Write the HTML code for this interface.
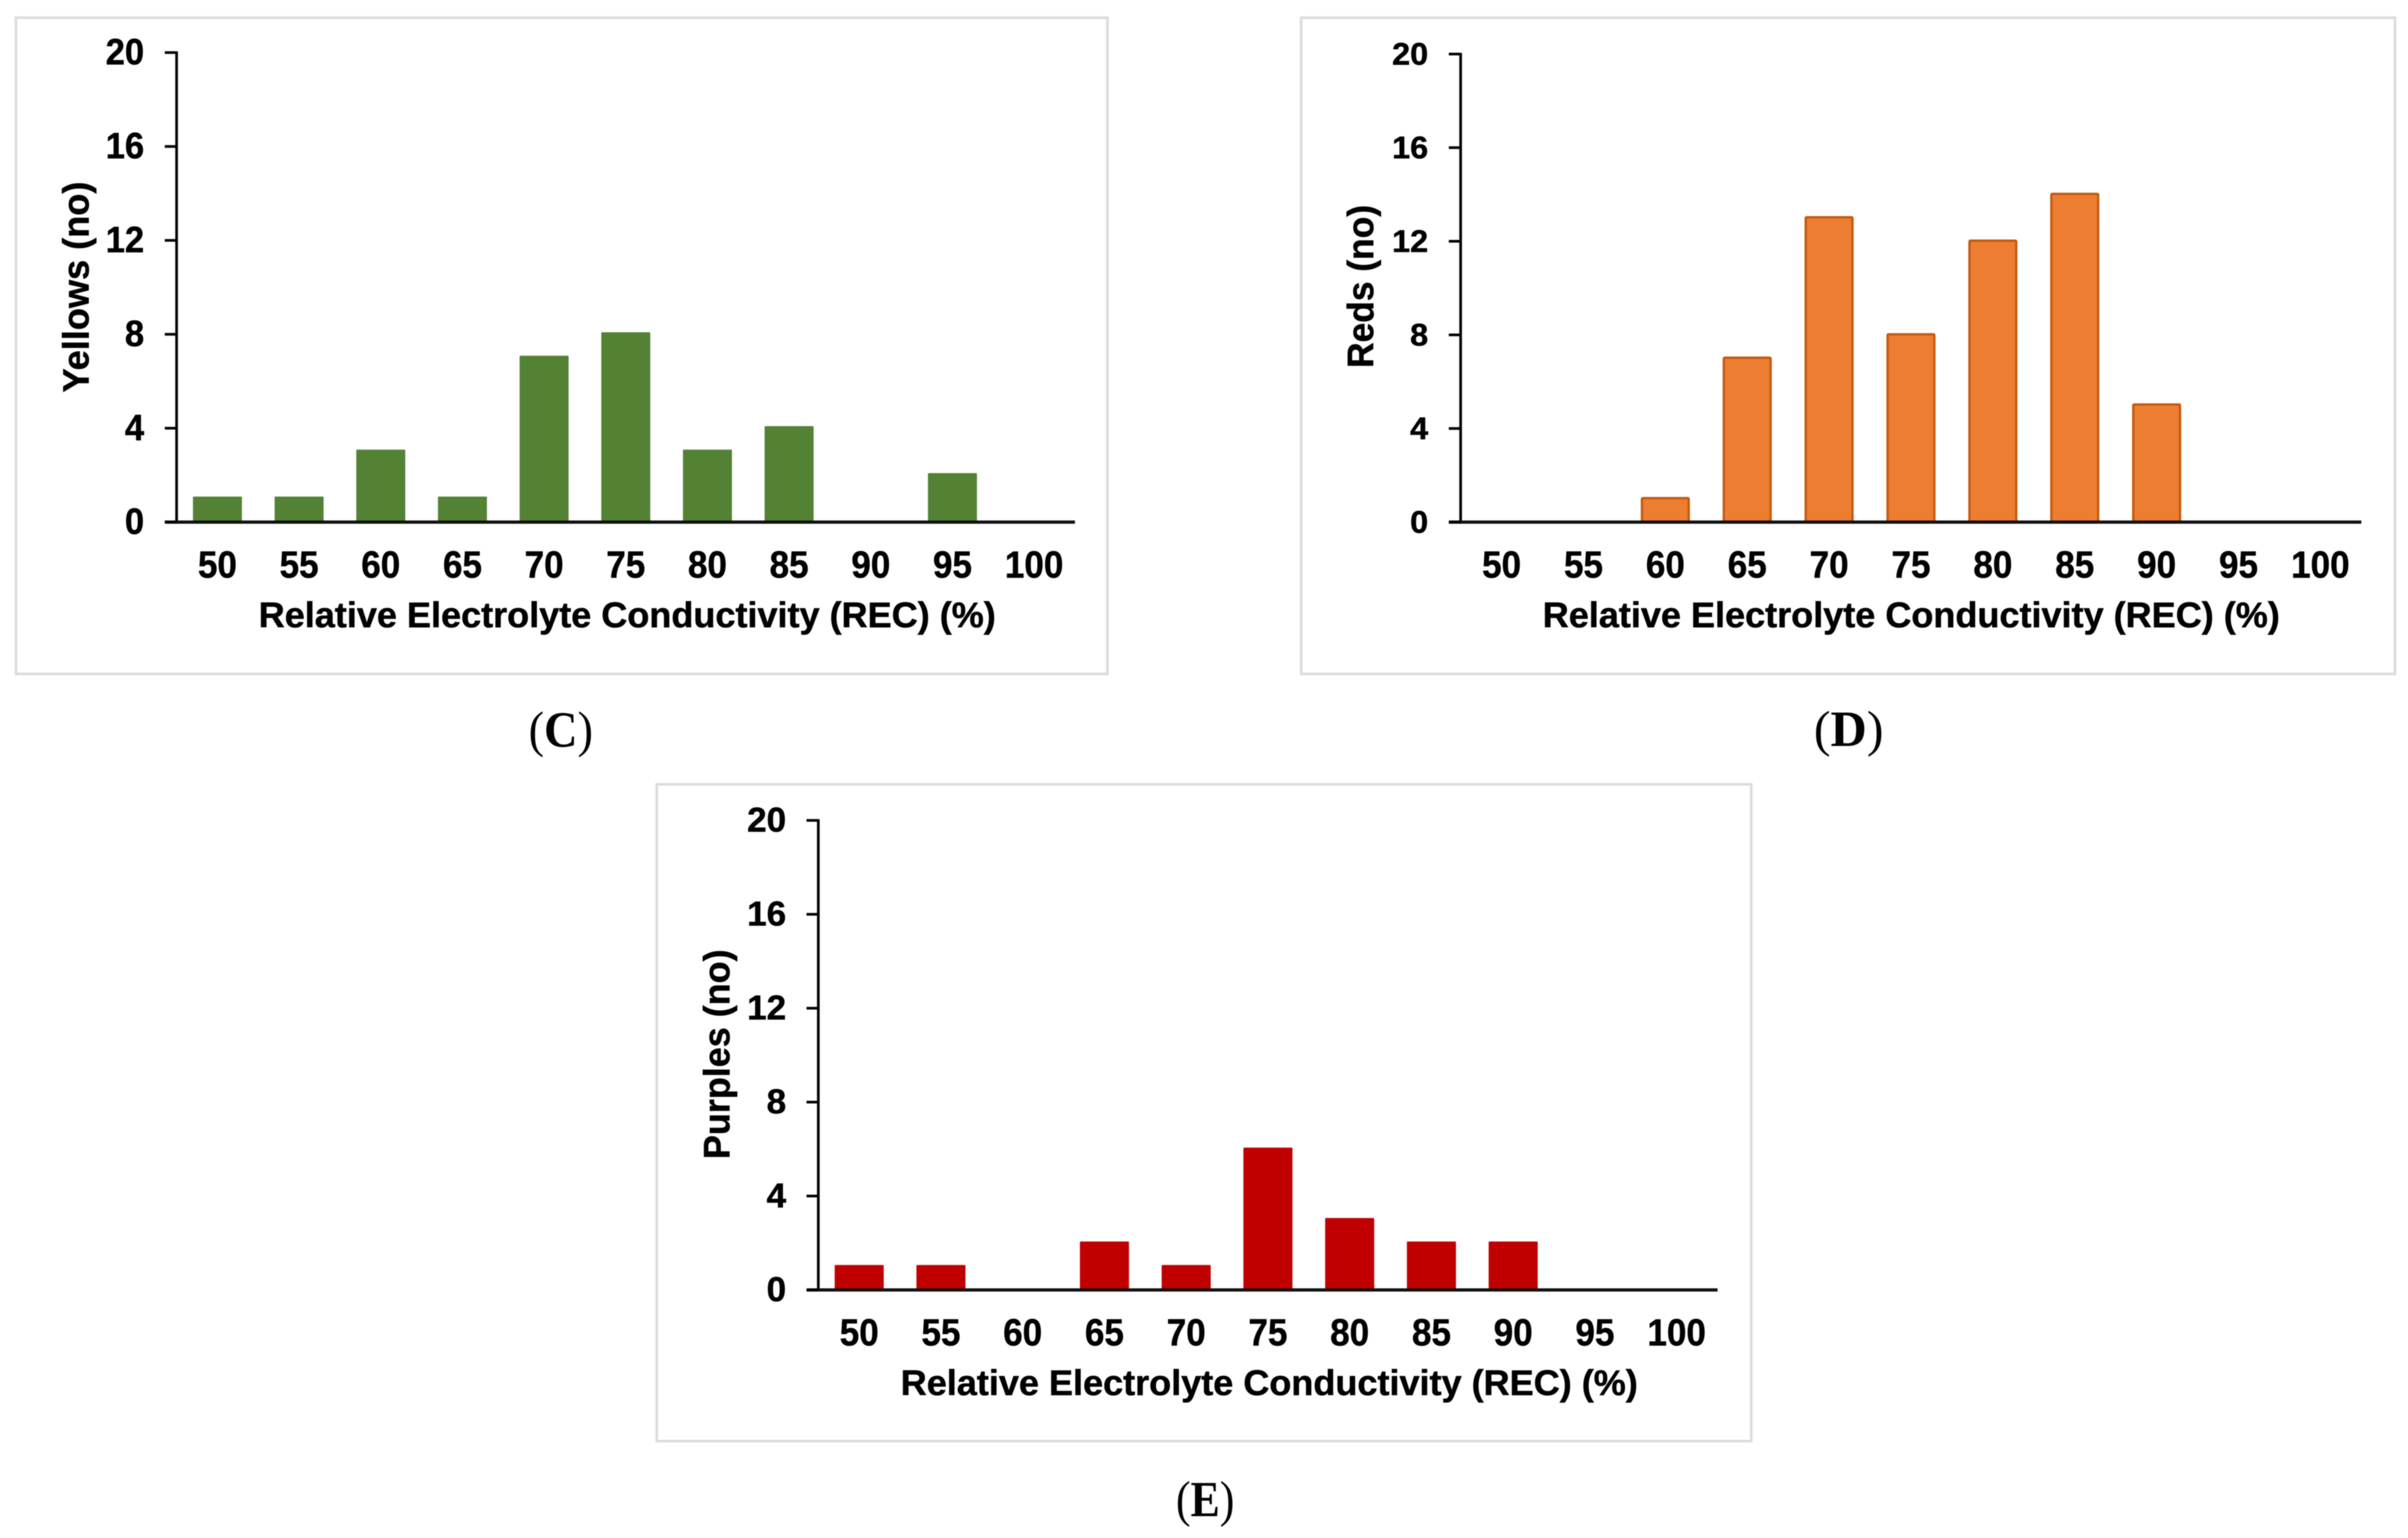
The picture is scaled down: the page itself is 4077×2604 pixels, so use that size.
<!DOCTYPE html>
<html lang="en">
<head>
<meta charset="utf-8">
<title>Relative Electrolyte Conductivity histograms</title>
<style>
  html, body { margin: 0; padding: 0; background: #fff; width: 4077px; height: 2604px; overflow: hidden; }
  svg { display: block; filter: blur(0.9px); }
  text { fill: #000; stroke: #000; stroke-width: 0.8px; font-family: "Liberation Sans", sans-serif; font-weight: 700; }
  .caption { font-family: "Liberation Serif", serif; font-weight: 400; font-size: 86px; stroke-width: 0; }
  .caption .letter { font-weight: 700; }
</style>
</head>
<body>
<svg id="figure" xmlns="http://www.w3.org/2000/svg" width="4077" height="2604" viewBox="0 0 4077 2604">
  <rect x="0" y="0" width="4077" height="2604" fill="#ffffff"/>
  <text class="caption" x="895" y="1264" textLength="109" lengthAdjust="spacingAndGlyphs">(<tspan class="letter">C</tspan>)</text>
  <text class="caption" x="3071" y="1263" textLength="118" lengthAdjust="spacingAndGlyphs">(<tspan class="letter">D</tspan>)</text>
  <text class="caption" x="1991" y="2567" textLength="99" lengthAdjust="spacingAndGlyphs">(<tspan class="letter">E</tspan>)</text>
</svg>
<script>
const categories = ["50", "55", "60", "65", "70", "75", "80", "85", "90", "95", "100"];
const yellowsValues = [1, 1, 3, 1, 7, 8, 3, 4, 0, 2, 0];
const redsValues = [0, 0, 1, 7, 13, 8, 12, 14, 5, 0, 0];
const purplesValues = [1, 1, 0, 2, 1, 6, 3, 2, 2, 0, 0];
const yTickLabels = ["0", "4", "8", "12", "16", "20"];
const xAxisTitle = "Relative Electrolyte Conductivity (REC) (%)";
const yMax = 20;

const panelLayouts = [
  { id: "yellows", values: yellowsValues, yTitle: "Yellows (no)", fill: "#548235", stroke: "none", strokeWidth: 0, barLift: 3.5,
    frame: [27, 30, 1875, 1141], axisX: 299, axisRight: 1820, axisTop: 89, axisBottom: 884,
    tickFont: 62, tickDigit: 32.5, tickRight: 244, tickDy: 20,
    titleX: 438, yTitleX: 150, yTitleMid: 486, yTitleLen: 357 },
  { id: "reds", values: redsValues, yTitle: "Reds (no)", fill: "#ED7D31", stroke: "#C55A11", strokeWidth: 4, barLift: 3,
    frame: [2203, 30, 4055, 1141], axisX: 2473, axisRight: 3998, axisTop: 91.5, axisBottom: 884,
    tickFont: 53, tickDigit: 30.5, tickRight: 2418, tickDy: 18,
    titleX: 2612, yTitleX: 2325, yTitleMid: 485, yTitleLen: 276 },
  { id: "purples", values: purplesValues, yTitle: "Purples (no)", fill: "#C00000", stroke: "none", strokeWidth: 0, barLift: 2.5,
    frame: [1112, 1328, 2965, 2440], axisX: 1385.5, axisRight: 2908, axisTop: 1389, axisBottom: 2184,
    tickFont: 58, tickDigit: 33, tickRight: 1331, tickDy: 19,
    titleX: 1525, yTitleX: 1235, yTitleMid: 1785, yTitleLen: 355 }
];

const SVG_NS = "http://www.w3.org/2000/svg";
const figure = document.getElementById("figure");

function make(tag, attrs, parent) {
  const el = document.createElementNS(SVG_NS, tag);
  for (const key in attrs) { el.setAttribute(key, attrs[key]); }
  parent.appendChild(el);
  return el;
}

function drawPanel(p) {
  const band = (p.axisRight - p.axisX) / categories.length;
  const xCenter = (i) => p.axisX + band * (i + 0.5);
  const yPos = (v) => p.axisBottom - (v / yMax) * (p.axisBottom - p.axisTop);
  const barWidth = band * 0.6;

  const group = make("g", {}, figure);
  
  

  const frame = make("rect", { x: p.frame[0], y: p.frame[1], width: p.frame[2] - p.frame[0], height: p.frame[3] - p.frame[1], fill: "#ffffff", stroke: "#dcdcdc", "stroke-width": 4.5 }, group);
  
  

  p.values.forEach((v, i) => {
    const sw = p.strokeWidth;
    const top = v > 0 ? yPos(v) - p.barLift : p.axisBottom;
    const bar = make("rect", {
      x: xCenter(i) - barWidth / 2 + sw / 2,
      y: top + sw / 2,
      width: barWidth - sw,
      height: Math.max(0, p.axisBottom - top - sw / 2),
      rx: 1.5,
      fill: p.fill,
      stroke: p.stroke,
      "stroke-width": sw
    }, group);
    
    

    const label = make("text", { x: xCenter(i), y: p.axisBottom + 94, "text-anchor": "middle", "font-size": 64, textLength: categories[i].length * 33, lengthAdjust: "spacingAndGlyphs" }, group);
    label.textContent = categories[i];
    
    
  });

  const yAxis = make("line", { x1: p.axisX, x2: p.axisX, y1: yPos(yMax) - 2, y2: p.axisBottom, stroke: "#000", "stroke-width": 4.5 }, group);
  
  

  const xAxis = make("line", { x1: p.axisX - 20, x2: p.axisRight, y1: p.axisBottom, y2: p.axisBottom, stroke: "#111", "stroke-width": 5.5 }, group);
  
  

  yTickLabels.forEach((t) => {
    const y = yPos(Number(t));
    const tick = make("line", { x1: p.axisX - 20, x2: p.axisX, y1: y, y2: y, stroke: "#000", "stroke-width": 4.5 }, group);
    
    

    const label = make("text", { x: p.tickRight, y: y + p.tickDy, "text-anchor": "end", "font-size": p.tickFont, textLength: t.length * p.tickDigit, lengthAdjust: "spacingAndGlyphs" }, group);
    label.textContent = t;
    
    
  });

  const xTitle = make("text", { x: p.titleX, y: p.axisBottom + 178, "font-size": 60, textLength: 1248, lengthAdjust: "spacingAndGlyphs" }, group);
  xTitle.textContent = xAxisTitle;
  
  

  const yTitle = make("text", { x: 0, y: 0, "text-anchor": "middle", "font-size": 62, textLength: p.yTitleLen, lengthAdjust: "spacingAndGlyphs", transform: "translate(" + p.yTitleX + "," + p.yTitleMid + ") rotate(-90)" }, group);
  yTitle.textContent = p.yTitle;
  
  
}

panelLayouts.forEach(drawPanel);
</script>
</body>
</html>
